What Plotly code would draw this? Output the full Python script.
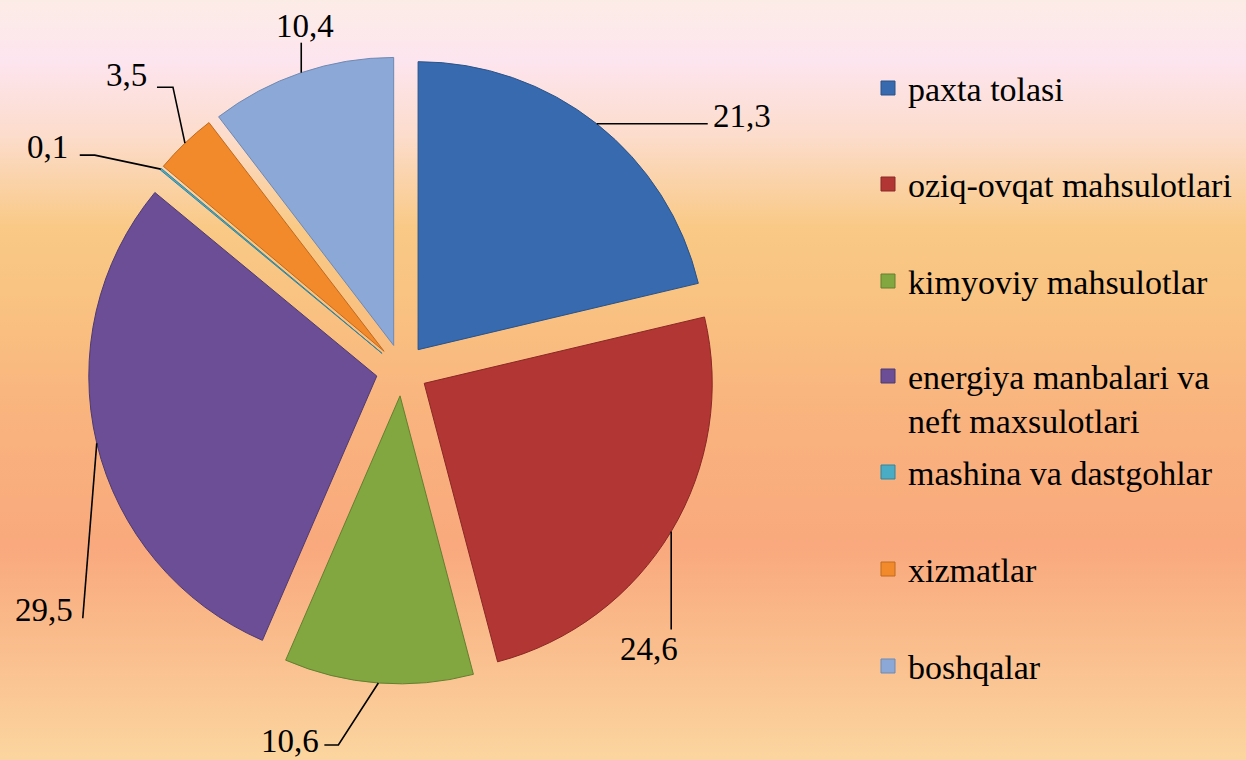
import math
import base64
import plotly.graph_objects as go

# ---------------- data ----------------
labels = ["paxta tolasi", "oziq-ovqat mahsulotlari", "kimyoviy mahsulotlar",
          "energiya manbalari va<br>neft maxsulotlari", "mashina va dastgohlar",
          "xizmatlar", "boshqalar"]
values = [21.3, 24.6, 10.6, 29.5, 0.1, 3.5, 10.4]
value_text = ["21,3", "24,6", "10,6", "29,5", "0,1", "3,5", "10,4"]

# ---------------- style ----------------
colors = ["#376AAE", "#B23634", "#82A640", "#6B4E96", "#4BACC6", "#F28A2C", "#8CA8D6"]
edges = ["#2A538A", "#8A2826", "#63802F", "#4F3A70", "#35839A", "#C06A1E", "#6F89B3"]
FONT = "Times New Roman, Liberation Serif, serif"
W, H = 1246, 760
CX, CY = 402, 370          # pie centre (px)
R = 288                    # pie radius (px)
PULL = 0.09                # explode fraction

# leader-line layout (px offsets relative to slice arc midpoint)
elbows = [None, None, (-40, 62), None, (-66, -14), (-12, -56), None]
ends = [(111, 0), (0, 98), (-54, 62), (-14, 175), (-81, -14), (-28, -56), (0, -30)]
lab_off = [(3, -8, "left"), (-22, 20, "center"), (-3, -4, "right"), (-8, -8, "right"),
           (-10, -8, "right"), (-8, -12, "right"), (4, -17, "center")]
legend_centers = [88, 184, 281, 376, 472, 569, 666]

def px(x, y):
    return x / W, 1 - y / H

fig = go.Figure()

half = R * (1 + PULL)
fig.add_trace(go.Pie(
    labels=labels, values=values, sort=False, direction="clockwise", rotation=0,
    pull=[PULL] * len(values), textinfo="none", showlegend=False,
    marker=dict(colors=colors, line=dict(color=edges, width=1)),
    domain=dict(x=[(CX - half) / W, (CX + half) / W],
                y=[1 - (CY + half) / H, 1 - (CY - half) / H]),
    hoverinfo="label+value",
))

# leader lines + labels computed from the slice angles
total = sum(values)
cum = 0.0
shapes = []
annotations = []
for i, v in enumerate(values):
    mid = (cum + v / 2) / total * 2 * math.pi
    cum += v
    dist = R * (1 + PULL)
    sx = CX + dist * math.sin(mid)
    sy = CY - dist * math.cos(mid)
    pts = [(sx, sy)]
    if elbows[i]:
        pts.append((sx + elbows[i][0], sy + elbows[i][1]))
    ex, ey = sx + ends[i][0], sy + ends[i][1]
    pts.append((ex, ey))
    path = ""
    for j, (x, y) in enumerate(pts):
        fx, fy = px(x, y)
        path += ("M" if j == 0 else "L") + f"{fx:.5f},{fy:.5f} "
    shapes.append(dict(type="path", path=path.strip(), xref="paper", yref="paper",
                       line=dict(color="black", width=1.6)))
    lx, ly = px(ex + lab_off[i][0], ey + lab_off[i][1])
    annotations.append(dict(x=lx, y=ly, xref="paper", yref="paper", text=value_text[i],
                            showarrow=False, xanchor=lab_off[i][2], yanchor="middle",
                            font=dict(family=FONT, size=33, color="black")))

# legend entries (one legend per entry to reproduce the even spacing)
legend_layout = {}
for i, (lab, c, e) in enumerate(zip(labels, colors, edges)):
    name = "legend" if i == 0 else f"legend{i + 1}"
    fig.add_trace(go.Scatter(x=[None], y=[None], mode="markers", name=lab,
                             legend=name, showlegend=True, hoverinfo="skip",
                             marker=dict(symbol="square", size=14, color=c,
                                         line=dict(color=e, width=1))))
    legend_layout[name] = dict(x=868 / W, xanchor="left",
                               y=1 - (legend_centers[i] - 28.6) / H, yanchor="top",
                               valign="top", bgcolor="rgba(0,0,0,0)",
                               font=dict(family=FONT, size=34, color="black"))

# gradient background
stops = [(0.0, "#FCECE6"), (0.08, "#FDE5EF"), (0.18, "#FCDCCB"), (0.30, "#F9C985"),
         (0.40, "#F9C281"), (0.55, "#F9B37E"), (0.72, "#F9A97D"), (0.86, "#FABF8E"),
         (1.0, "#FBD59F")]
stop_xml = "".join(f'<stop offset="{o}" stop-color="{c}"/>' for o, c in stops)
svg = (f'<svg xmlns="http://www.w3.org/2000/svg" width="{W}" height="{H}" '
       f'preserveAspectRatio="none"><defs><linearGradient id="g" x1="0" y1="0" x2="0" y2="1">'
       f'{stop_xml}</linearGradient></defs><rect width="100%" height="100%" fill="url(#g)"/></svg>')
src = "data:image/svg+xml;base64," + base64.b64encode(svg.encode()).decode()

fig.update_layout(
    width=W, height=H, margin=dict(l=0, r=0, t=0, b=0),
    font=dict(family=FONT, color="black"),
    paper_bgcolor="#F9C281", plot_bgcolor="rgba(0,0,0,0)",
    xaxis=dict(visible=False), yaxis=dict(visible=False),
    shapes=shapes, annotations=annotations,
    images=[dict(source=src, xref="paper", yref="paper", x=0, y=1, sizex=1, sizey=1,
                 xanchor="left", yanchor="top", sizing="stretch", layer="below")],
    **legend_layout,
)

fig.write_html("out.html", config={"displayModeBar": False},
               post_script="document.body.style.margin='0';document.body.style.overflow='hidden';")
